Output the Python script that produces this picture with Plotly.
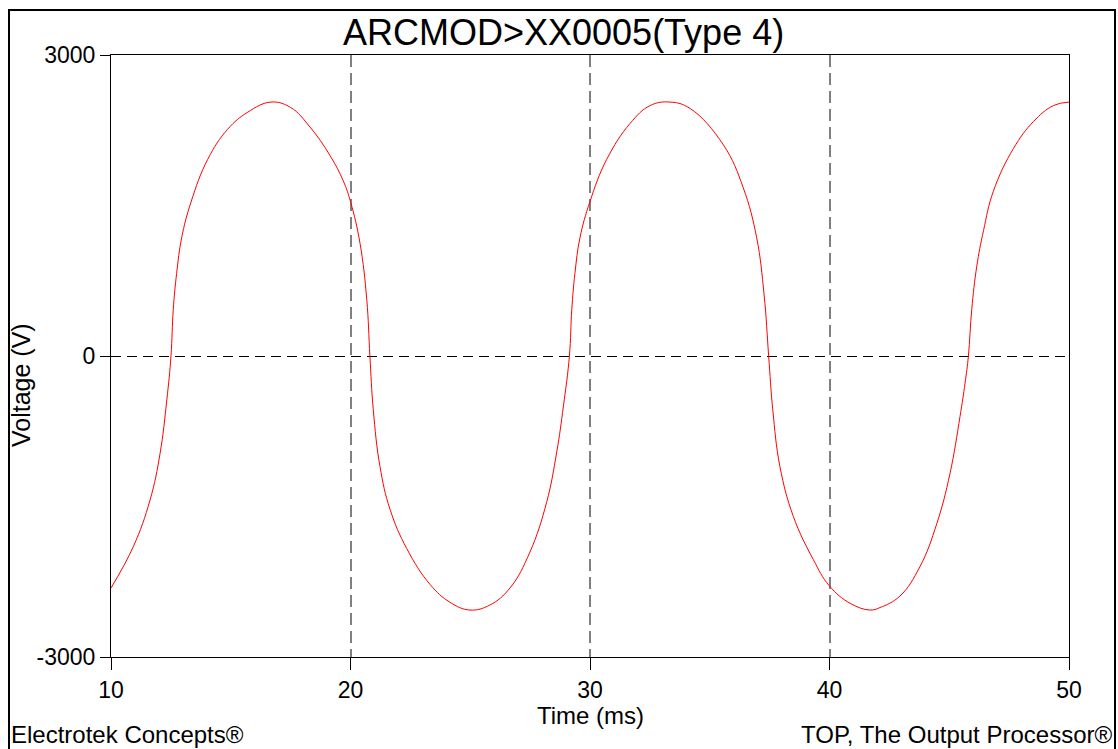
import plotly.graph_objects as go

# Data
time_ms = [10.00, 10.93, 11.63, 12.05, 12.33, 12.505, 12.60, 12.74, 12.95, 13.34,
           14.04, 14.87, 15.71, 16.68, 17.50, 18.31, 19.14, 19.70, 20.01, 20.40, 20.68, 20.81,
           20.95, 21.23, 21.65, 22.35, 23.32, 24.15, 24.99, 25.82, 26.66, 27.49, 28.19, 28.61,
           28.89, 29.14, 29.24, 29.37, 29.58, 30.00, 30.70, 31.67, 32.51, 33.34, 34.18, 35.57,
           36.40, 36.96, 37.27, 37.46, 37.63, 37.93, 38.49, 39.32, 39.99, 40.86, 41.69, 42.11,
           42.94, 43.78, 44.48, 45.03, 45.45, 45.66, 45.80, 45.94, 46.15, 46.43, 46.84, 47.68,
           48.51, 49.35, 50.00]
voltage_v = [-2312, -1901, -1436, -970, -439, 0, 466, 822, 1178, 1534,
             1961, 2260, 2430, 2531, 2477, 2282, 2000, 1745, 1530, 1120, 560, 0,
             -531, -1101, -1528, -1920, -2276, -2454, -2532, -2482, -2312, -1955, -1457, -958,
             -500, 0, 466, 822, 1178, 1540, 1961, 2317, 2496, 2531, 2467, 2104,
             1676, 1178, 608, 0, -531, -1101, -1599, -2027, -2290, -2465, -2532, -2507,
             -2393, -2098, -1671, -1172, -602, -270, 0, 466, 895, 1249, 1641, 2068,
             2335, 2496, 2531]

x_ticks = [10, 20, 30, 40, 50]
y_ticks = [-3000, 0, 3000]

title_text = "ARCMOD>XX0005(Type 4)"
x_title = "Time (ms)"
y_title = "Voltage (V)"
footer_left = "Electrotek Concepts®"
footer_right = "TOP, The Output Processor®"

FONT = "Liberation Sans, Arial, sans-serif"
W, H = 1118, 749
L, R, T, B = 111, 49, 55, 92
PW, PH = W - L - R, H - T - B


def px(x):
    return (x - L) / PW


def py(y):
    return (H - B - y) / PH


fig = go.Figure()
fig.add_trace(go.Scatter(x=time_ms, y=voltage_v, mode="lines",
                         line=dict(color="#ff0000", width=1, shape="spline", smoothing=1.15),
                         hoverinfo="x+y", showlegend=False))

fig.update_layout(
    width=W, height=H, autosize=False,
    margin=dict(l=L, r=R, t=T, b=B),
    paper_bgcolor="white", plot_bgcolor="white",
    font=dict(family=FONT, color="black", size=23),
    showlegend=False,
    xaxis=dict(range=[10, 50], tickvals=x_ticks, ticktext=[str(v) for v in x_ticks],
               showgrid=True, gridcolor="#808080", gridwidth=1.5, griddash="12px,6px",
               showline=True, linecolor="black", linewidth=1, mirror=True,
               ticks="outside", ticklen=12, tickcolor="black", tickwidth=1,
               zeroline=False, tickfont=dict(size=23, family=FONT)),
    yaxis=dict(range=[-3000, 3000], tickvals=y_ticks, ticktext=[str(v) for v in y_ticks],
               showgrid=True, gridcolor="black", gridwidth=1, griddash="10px,6px",
               showline=True, linecolor="black", linewidth=1, mirror=True,
               ticks="outside", ticklen=10, tickcolor="black", tickwidth=1,
               zeroline=False, tickfont=dict(size=23, family=FONT)),
    shapes=[dict(type="rect", xref="paper", yref="paper",
                 x0=px(9), x1=px(1115), y0=py(760), y1=py(10),
                 line=dict(color="black", width=2), fillcolor="rgba(0,0,0,0)", layer="below")],
    annotations=[
        dict(text=title_text, x=px(563), y=py(32), xref="paper", yref="paper",
             showarrow=False, xanchor="center", yanchor="middle",
             font=dict(size=36, family=FONT, color="black")),
        dict(text=x_title, x=px(590), y=py(715), xref="paper", yref="paper",
             showarrow=False, xanchor="center", yanchor="middle", borderpad=0,
             font=dict(size=24, family=FONT, color="black")),
        dict(text=y_title, x=px(21), y=py(385), xref="paper", yref="paper",
             showarrow=False, xanchor="center", yanchor="middle", textangle=-90,
             font=dict(size=25, family=FONT, color="black")),
        dict(text=footer_left, x=px(10), y=py(749), xref="paper", yref="paper",
             showarrow=False, xanchor="left", yanchor="bottom", borderpad=0,
             font=dict(size=24, family=FONT, color="black")),
        dict(text=footer_right, x=px(1113), y=py(749), xref="paper", yref="paper",
             showarrow=False, xanchor="right", yanchor="bottom", borderpad=0,
             font=dict(size=24, family=FONT, color="black")),
    ],
)

fig.write_html("out.html")
